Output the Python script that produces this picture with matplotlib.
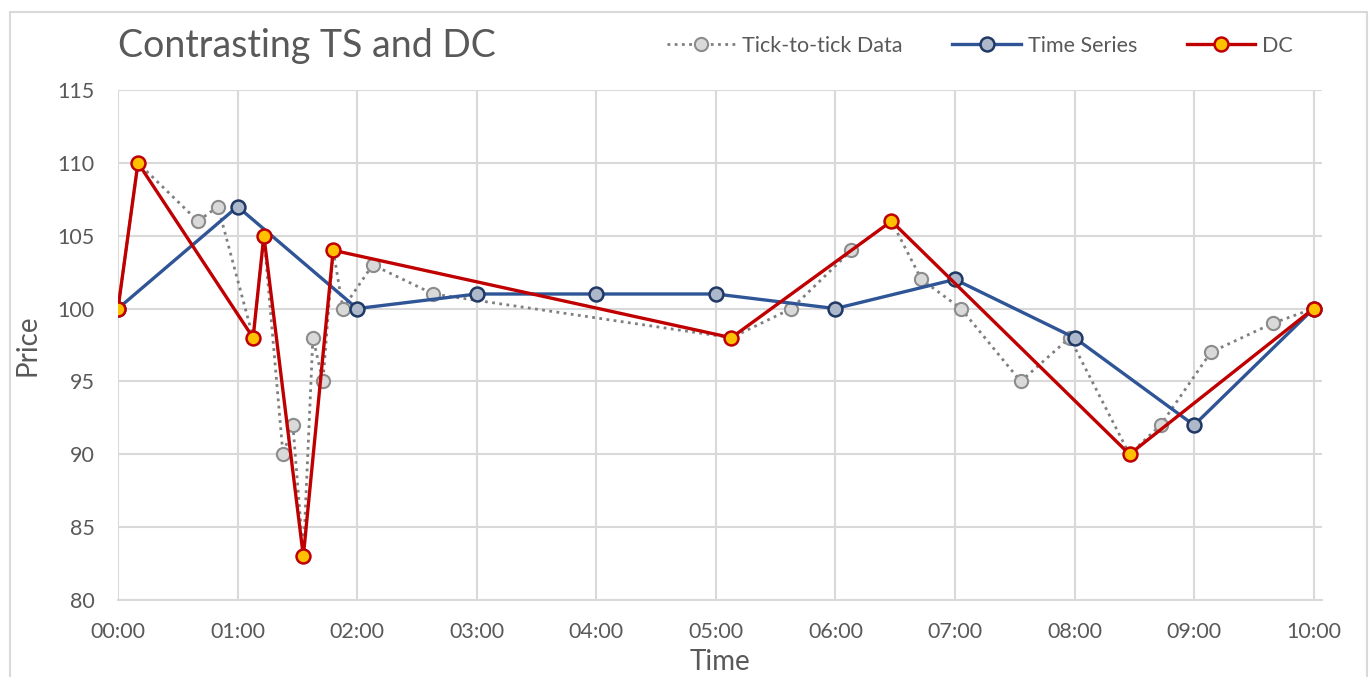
import matplotlib
matplotlib.use("Agg")
import matplotlib.pyplot as plt
from matplotlib.lines import Line2D
from matplotlib.patches import Rectangle

# hours since 00:00
tick_time = [0.0, 0.167, 0.669, 0.836, 1.13, 1.22, 1.38, 1.463, 1.55, 1.63, 1.714, 1.80,
             1.881, 2.13, 2.637, 5.13, 5.633, 6.134, 6.469, 6.72, 7.05, 7.55, 7.96,
             8.46, 8.72, 9.14, 9.66, 10.0]
tick_price = [100, 110, 106, 107, 98, 105, 90, 92, 83, 98, 95, 104,
              100, 103, 101, 98, 100, 104, 106, 102, 100, 95, 98,
              90, 92, 97, 99, 100]

ts_time = [0, 1, 2, 3, 4, 5, 6, 7, 8, 9, 10]
ts_price = [100, 107, 100, 101, 101, 101, 100, 102, 98, 92, 100]

dc_time = [0.0, 0.167, 1.13, 1.22, 1.55, 1.80, 5.13, 6.469, 8.46, 10.0]
dc_price = [100, 110, 98, 105, 83, 104, 98, 106, 90, 100]

hour_ticks = list(range(0, 11))
hour_labels = [f"{h:02d}:00" for h in hour_ticks]
price_ticks = [80, 85, 90, 95, 100, 105, 110, 115]

TEXT = "#595959"
GRID = "#D9D9D9"

plt.rcParams["font.family"] = ["Lato", "DejaVu Sans"]

fig = plt.figure(figsize=(13.71, 6.77), dpi=100)
ax = fig.add_axes([118 / 1371, 1 - 600 / 677, (1322 - 118) / 1371, (600 - 90) / 677])

fig.patches.append(Rectangle((10 / 1371, -0.01), 1357 / 1371, 1 - 12 / 677 + 0.01,
                             transform=fig.transFigure, fill=False,
                             edgecolor=GRID, linewidth=1.5))

tick_style = dict(color="#7F7F7F", linestyle=(0, (1, 1.6)), linewidth=2.0,
                  marker="o", markersize=9.5, markerfacecolor="#D9D9D9",
                  markeredgecolor="#8C8C8C", markeredgewidth=1.5)
ts_style = dict(color="#2F5597", linestyle="-", linewidth=2.4,
                marker="o", markersize=10, markerfacecolor="#ADB9CA",
                markeredgecolor="#1F3864", markeredgewidth=1.8)
dc_style = dict(color="#C00000", linestyle="-", linewidth=2.4,
                marker="o", markersize=10, markerfacecolor="#FFC000",
                markeredgecolor="#C00000", markeredgewidth=1.8)

ax.plot(tick_time, tick_price, zorder=3, **tick_style)
ax.plot(ts_time, ts_price, zorder=4, **ts_style)
ax.plot(dc_time, dc_price, zorder=5, **dc_style)

ax.set_xlim(0, 10.07)
ax.set_ylim(80, 115)
ax.set_xticks(hour_ticks)
ax.set_xticklabels(hour_labels)
ax.set_yticks(price_ticks)
ax.grid(True, color=GRID, linewidth=1.5)
ax.set_axisbelow(True)
for side in ["top", "right", "left"]:
    ax.spines[side].set_visible(False)
ax.spines["bottom"].set_color(GRID)
ax.spines["bottom"].set_linewidth(1.5)
ax.tick_params(length=0, labelsize=15.5, labelcolor=TEXT)
ax.tick_params(axis="x", pad=16)
ax.tick_params(axis="y", pad=17)

ax.set_xlabel("Time", fontsize=20, color=TEXT, labelpad=5)
ax.set_ylabel("Price", fontsize=20, color=TEXT, labelpad=12)

fig.text(118 / 1371, 1 - 46 / 677, "Contrasting TS and DC", fontsize=27,
         color=TEXT, va="center", ha="left")

handles = [
    Line2D([0], [0], label="Tick-to-tick Data", **tick_style),
    Line2D([0], [0], label="Time Series", **ts_style),
    Line2D([0], [0], label="DC", **dc_style),
]
fig.legend(handles=handles, loc="center right", bbox_to_anchor=(1312 / 1371, 1 - 46 / 677),
           ncol=3, frameon=False, fontsize=15.5, labelcolor=TEXT, handlelength=3.2,
           handletextpad=0.3, columnspacing=2.3)

fig.savefig("out.png", dpi=100)
